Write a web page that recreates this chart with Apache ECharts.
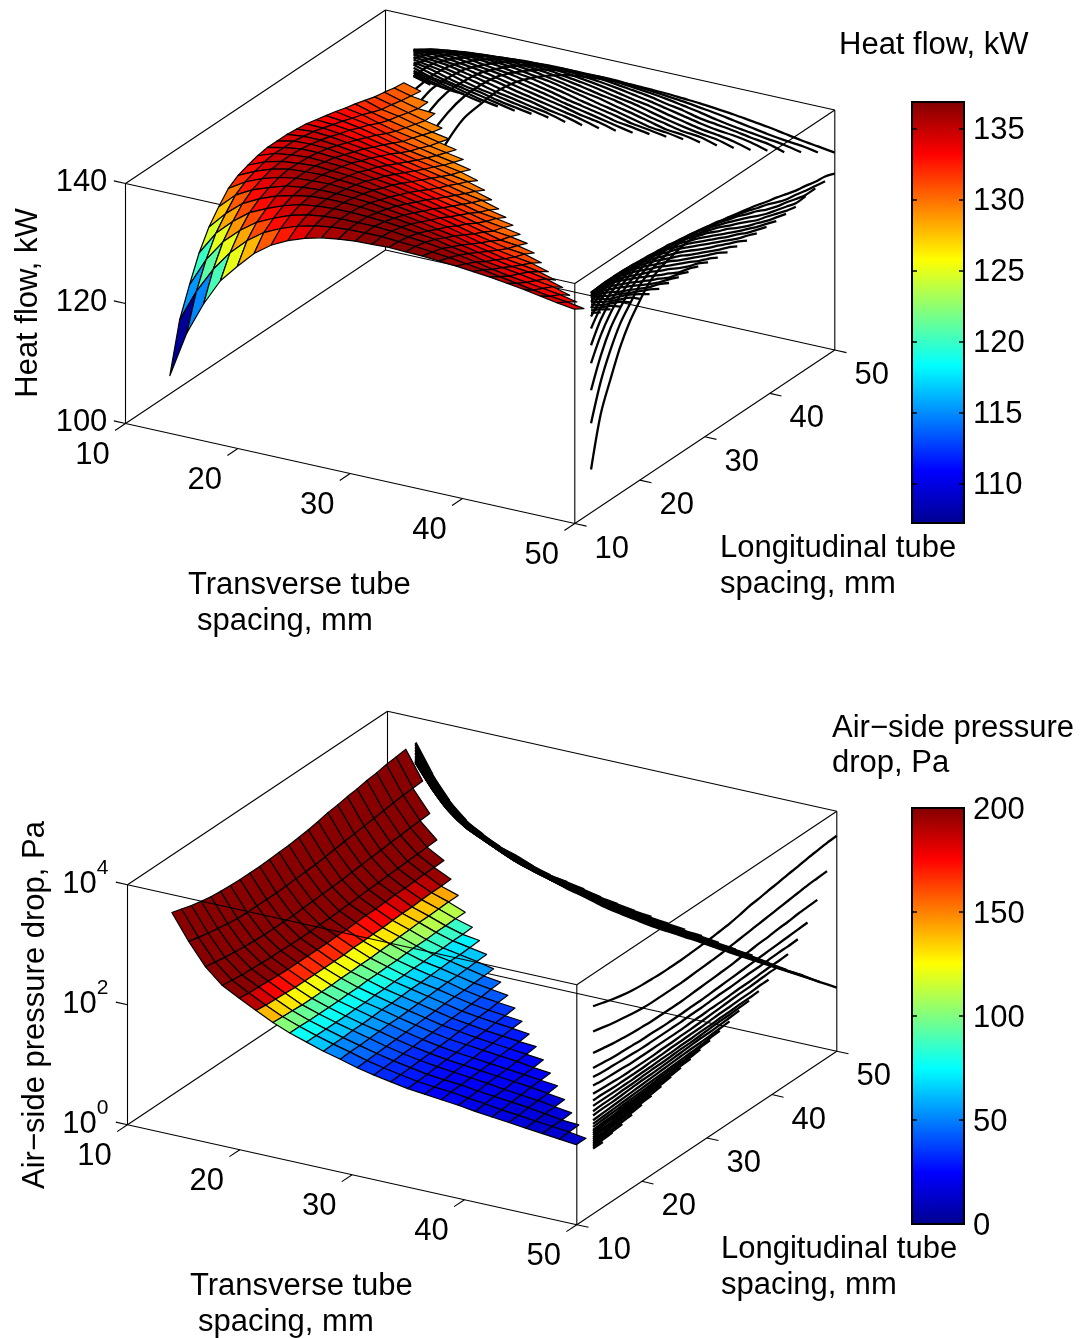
<!DOCTYPE html>
<html><head><meta charset="utf-8">
<style>html,body{margin:0;padding:0;background:#fff}#c{width:1080px;height:1338px}</style>
<script src="https://cdn.jsdelivr.net/npm/echarts@6/dist/echarts.min.js"></script>
</head><body><div id="c"></div>
<script>
// Grid of the surfaces: the same tube spacings (mm) are used along both floor axes.
const transverseSpacing = [12.5,14,15.5,17,18.5,20,21.5,23,24.5,26,27.5,29,30.5,32,33.5,35,36.5,38,39.5,41,42.5,44,45.5,47,48.5,50];
const longitudinalSpacing = [12.5,14,15.5,17,18.5,20,21.5,23,24.5,26,27.5,29,30.5,32,33.5,35,36.5,38,39.5,41,42.5,44,45.5,47,48.5,50];

// Heat flow, kW. heatFlow[k][i] is the value at transverse index i, longitudinal index k-i.
const heatFlow = [
[107.2],
[115.4,114.9],
[120.1,120.8,120.4],
[124.4,125.0,125.1,124.9],
[127.6,128.3,128.6,128.5,127.9],
[129.9,130.5,130.9,131.1,131.1,130.7],
[131.9,132.5,132.8,133.0,133.1,133.1,132.7],
[133.0,133.6,134.0,134.2,134.3,134.4,134.4,134.1],
[133.6,134.3,134.8,135.0,135.3,135.4,135.5,135.4,135.1],
[134.1,134.8,135.3,135.6,135.9,136.0,136.2,136.2,136.1,135.8],
[134.4,135.1,135.5,135.9,136.1,136.3,136.5,136.6,136.6,136.5,136.2],
[134.4,135.0,135.5,135.8,136.1,136.3,136.5,136.7,136.8,136.8,136.7,136.5],
[134.4,135.0,135.4,135.7,136.0,136.2,136.4,136.5,136.7,136.8,136.8,136.8,136.6],
[134.2,134.7,135.1,135.4,135.6,135.8,136.0,136.2,136.4,136.6,136.7,136.8,136.8,136.7],
[134.0,134.4,134.7,135.0,135.2,135.4,135.6,135.8,136.0,136.2,136.3,136.5,136.6,136.6,136.6],
[133.6,133.9,134.2,134.4,134.6,134.9,135.1,135.3,135.5,135.6,135.8,136.0,136.2,136.3,136.4,136.5],
[133.2,133.4,133.6,133.8,134.0,134.2,134.4,134.6,134.8,135.0,135.2,135.4,135.6,135.8,136.0,136.1,136.3],
[132.8,132.9,133.1,133.2,133.4,133.6,133.8,134.0,134.2,134.3,134.5,134.7,134.9,135.1,135.4,135.6,135.8,136.1],
[132.3,132.3,132.4,132.5,132.6,132.8,133.0,133.2,133.4,133.6,133.7,133.9,134.1,134.3,134.6,134.8,135.1,135.4,135.8],
[131.9,131.8,131.8,131.8,131.9,132.1,132.2,132.4,132.6,132.8,133.0,133.2,133.4,133.6,133.8,134.0,134.3,134.6,135.0,135.5],
[131.4,131.1,131.0,131.0,131.1,131.2,131.4,131.6,131.8,131.9,132.1,132.3,132.5,132.7,132.9,133.1,133.4,133.6,134.0,134.5,135.1],
[130.9,130.5,130.4,130.3,130.3,130.4,130.6,130.8,131.0,131.1,131.3,131.5,131.7,131.9,132.0,132.2,132.5,132.8,133.2,133.5,134.0,134.7],
[130.6,130.2,130.0,129.8,129.8,129.8,129.9,130.1,130.2,130.4,130.5,130.7,130.9,131.0,131.2,131.4,131.6,131.9,132.3,132.8,133.1,133.5,134.2],
[130.2,129.8,129.5,129.3,129.2,129.1,129.2,129.3,129.4,129.6,129.7,129.9,130.0,130.2,130.3,130.5,130.8,131.1,131.5,132.0,132.3,132.7,133.1,133.7],
[130.0,129.5,129.1,128.8,128.6,128.6,128.6,128.7,128.8,128.9,129.0,129.2,129.3,129.6,129.8,130.0,130.2,130.5,130.7,131.0,131.5,131.9,132.3,132.8,133.3],
[129.4,129.2,129.1,128.9,128.2,128.1,128.0,128.1,128.1,128.0,128.1,128.2,128.4,128.7,129.1,129.3,129.5,129.6,129.7,129.9,130.2,130.7,131.1,131.7,132.3,132.9]
];

// log10 of air-side pressure drop (Pa). pressureLog10[i][j]: transverse index i, longitudinal index j.
const pressureLog10 = [
[3.46,3.41,3.36,3.32,3.29,3.27,3.26,3.25,3.25,3.25,3.26,3.27,3.28,3.30,3.32,3.35,3.39,3.41,3.44,3.46,3.49,3.51,3.54,3.56,3.58,3.59],
[3.04,3.00,2.96,2.93,2.90,2.88,2.87,2.87,2.87,2.87,2.88,2.89,2.90,2.91,2.93,2.95,2.97,2.99,3.01,3.03,3.05,3.07,3.09,3.10,3.11],
[2.68,2.65,2.62,2.60,2.58,2.57,2.56,2.56,2.56,2.56,2.57,2.58,2.59,2.60,2.61,2.63,2.64,2.66,2.67,2.69,2.70,2.72,2.73,2.74],
[2.43,2.41,2.39,2.38,2.37,2.36,2.36,2.35,2.35,2.35,2.36,2.36,2.37,2.38,2.39,2.40,2.41,2.42,2.43,2.44,2.45,2.46,2.47],
[2.28,2.26,2.25,2.24,2.23,2.22,2.22,2.22,2.22,2.22,2.23,2.23,2.24,2.25,2.25,2.26,2.27,2.27,2.28,2.29,2.29,2.30],
[2.14,2.12,2.11,2.10,2.09,2.09,2.09,2.09,2.09,2.09,2.10,2.10,2.11,2.11,2.12,2.13,2.13,2.14,2.15,2.15,2.16],
[2.00,1.99,1.98,1.97,1.97,1.97,1.97,1.98,1.98,1.99,1.99,2.00,2.01,2.02,2.03,2.04,2.04,2.05,2.06,2.06],
[1.89,1.89,1.88,1.88,1.88,1.88,1.89,1.89,1.90,1.90,1.91,1.91,1.92,1.93,1.93,1.94,1.94,1.95,1.95],
[1.80,1.80,1.80,1.80,1.80,1.81,1.81,1.82,1.82,1.83,1.83,1.84,1.84,1.85,1.85,1.86,1.86,1.87],
[1.71,1.72,1.72,1.73,1.73,1.74,1.75,1.75,1.76,1.77,1.77,1.78,1.79,1.80,1.80,1.81,1.82],
[1.64,1.65,1.65,1.66,1.67,1.68,1.68,1.69,1.70,1.71,1.72,1.73,1.73,1.74,1.75,1.76],
[1.56,1.57,1.58,1.59,1.60,1.61,1.62,1.63,1.64,1.65,1.66,1.66,1.67,1.68,1.69],
[1.50,1.51,1.52,1.53,1.54,1.55,1.56,1.57,1.58,1.59,1.60,1.61,1.63,1.64],
[1.45,1.46,1.47,1.48,1.49,1.50,1.51,1.53,1.54,1.55,1.56,1.58,1.59],
[1.40,1.41,1.42,1.44,1.45,1.46,1.48,1.49,1.50,1.52,1.53,1.55],
[1.37,1.38,1.39,1.41,1.42,1.43,1.45,1.46,1.47,1.49,1.50],
[1.34,1.36,1.37,1.38,1.39,1.40,1.42,1.43,1.44,1.46],
[1.31,1.32,1.33,1.35,1.36,1.37,1.39,1.40,1.42],
[1.27,1.29,1.30,1.31,1.33,1.34,1.35,1.37],
[1.24,1.25,1.27,1.28,1.30,1.31,1.32],
[1.21,1.22,1.24,1.25,1.26,1.28],
[1.18,1.19,1.20,1.21,1.22],
[1.15,1.16,1.16,1.17],
[1.12,1.13,1.14],
[1.09,1.09],
[1.06]
];

// Axis ticks
const floorTicks = [10,20,30,40,50];
const heatTicks = [100,120,140];
const pressureExponents = [0,2,4];
const heatColorTicks = [110,115,120,125,130,135];
const pressureColorTicks = [0,50,100,150,200];

// Colour map (jet)
const jetStops = [[0,0,0,143],[0.125,0,0,255],[0.375,0,255,255],[0.625,255,255,0],[0.875,255,0,0],[1,128,0,0]];
function jet(t){
  t=Math.max(0,Math.min(1,t));
  for(let k=1;k<jetStops.length;k++){
    const a=jetStops[k-1],b=jetStops[k];
    if(t<=b[0]){const f=(t-a[0])/(b[0]-a[0]);
      return 'rgb('+[1,2,3].map(n=>Math.round(a[n]+(b[n]-a[n])*f)).join(',')+')';}
  }
  return 'rgb(128,0,0)';
}
function jetFlat(t){ const lvl=Math.min(63,Math.max(0,Math.floor(t*64))); return jet((lvl+0.5)/64); }

const FONT='"Liberation Sans"', SIZE=31;
const N=transverseSpacing.length;

const panels=[
 {gridLeft:125.5,gridTop:8.5,zMin:100,zMax:140,cMin:107.2,cMax:136.9,
  z:(i,j)=>heatFlow[i+j][i], c:(i,j)=>heatFlow[i+j][i], frontTopOver:false,
  zTicks:heatTicks, zText:v=>[String(v)], barTop:102, barH:421, barTicks:heatColorTicks},
 {gridLeft:127.5,gridTop:709.7,zMin:0,zMax:4,cMin:0,cMax:200,
  z:(i,j)=>pressureLog10[i][j], c:(i,j)=>Math.pow(10,pressureLog10[i][j]), frontTopOver:true,
  zTicks:pressureExponents, zText:v=>['10',String(v)], barTop:808, barH:416, barTicks:pressureColorTicks}
];

// Oblique projection: floor and height axes normalised to 0..1, then to grid units.
const GW=709, GH=515;
function proj(p,x,y,z){
  const xn=(x-10)/40,yn=(y-10)/40,zn=(z-p.zMin)/(p.zMax-p.zMin);
  return [449.3*xn+260*yn, 100*(1-xn)+173.5*yn+240*zn];
}
function txt(x,y,text,align,size){
  return {type:'text',style:{x:x,y:y+2,text:text,fill:'#000',fontFamily:FONT,fontSize:size||SIZE,
    textAlign:align||'center',textVerticalAlign:'middle'}};
}
function lineEl(pts,w,color,smooth){
  return {type:'polyline',shape:{points:pts,smooth:smooth||0},style:{stroke:color||'#000',lineWidth:w,fill:null,lineJoin:'round'}};
}

const series=[],grid=[],xAxis=[],yAxis=[];

panels.forEach((p,pi)=>{
  const g=grid.length,gx=xAxis.length,gy=yAxis.length;
  grid.push({left:p.gridLeft,top:p.gridTop,width:GW,height:GH,show:false});
  xAxis.push({gridIndex:g,type:'value',min:0,max:GW,show:false});
  yAxis.push({gridIndex:g,type:'value',min:0,max:GH,show:false});

  const base={type:'custom',coordinateSystem:'cartesian2d',xAxisIndex:gx,yAxisIndex:gy,silent:true,animation:false,clip:false};
  const zLo=p.zMin,zHi=p.zMax;
  const corners={A:[10,10],B:[50,10],C:[50,50],D:[10,50]};
  const edge=(a,za,b,zb)=>[corners[a][0],corners[a][1],za,corners[b][0],corners[b][1],zb];
  const under=[
    edge('A',zLo,'B',zLo),edge('B',zLo,'C',zLo),edge('C',zLo,'D',zLo),edge('D',zLo,'A',zLo),
    edge('A',zHi,'D',zHi),edge('D',zHi,'C',zHi),edge('C',zHi,'B',zHi),
    edge('A',zLo,'A',zHi),edge('B',zLo,'B',zHi),edge('C',zLo,'C',zHi),edge('D',zLo,'D',zHi)];
  const frontTop=edge('A',zHi,'B',zHi);
  const ticks=[];
  floorTicks.forEach(v=>{ticks.push([v,10,zLo,v,8.4,zLo]);});                  // transverse axis ticks
  floorTicks.forEach(v=>{ticks.push([50,v,zLo,51.04,v,zLo]);});                // longitudinal axis ticks
  p.zTicks.forEach(v=>{ticks.push([10,10,v,8.96,10,v]);});                     // height axis ticks
  const segRender=(w)=>(params,api)=>{
    const a=api.coord(proj(p,api.value(0),api.value(1),api.value(2)));
    const b=api.coord(proj(p,api.value(3),api.value(4),api.value(5)));
    return lineEl([a,b],w,'#000');
  };
  const segs=p.frontTopOver?under:under.concat([frontTop]);
  series.push(Object.assign({},base,{data:segs.concat(ticks),renderItem:segRender(1.1)}));

  // Projections of the surface on the two back walls
  const wallLines=[];
  for(let j=0;j<N-1;j++){wallLines.push([0,j]);}   // y = 50 wall, one line per longitudinal spacing
  for(let i=0;i<N-1;i++){wallLines.push([1,i]);}   // x = 50 wall, one line per transverse spacing
  series.push(Object.assign({},base,{data:wallLines,renderItem:(params,api)=>{
    const wall=api.value(0),k=api.value(1),pts=[];
    for(let m=0;m<N-k;m++){
      const P=wall===0?proj(p,transverseSpacing[m],50,p.z(m,k)):proj(p,50,longitudinalSpacing[m],p.z(k,m));
      pts.push(api.coord(P));
    }
    return lineEl(pts,2.3,'#000',0.3);
  }}));

  // Surface: far quads first
  const quads=[];
  for(let j=N-2;j>=0;j--){for(let i=0;i+j+2<N;i++){quads.push([i,j]);}}
  series.push(Object.assign({},base,{data:quads,renderItem:(params,api)=>{
    const i=api.value(0),j=api.value(1);
    const P=(a,b)=>api.coord(proj(p,transverseSpacing[a],longitudinalSpacing[b],p.z(a,b)));
    return {type:'polygon',shape:{points:[P(i,j),P(i+1,j),P(i+1,j+1),P(i,j+1)]},
      style:{fill:jetFlat((p.c(i,j)-p.cMin)/(p.cMax-p.cMin)),stroke:'#000',lineWidth:1.2,lineJoin:'round'}};
  }}));

  if(p.frontTopOver){
    series.push(Object.assign({},base,{data:[frontTop],renderItem:segRender(1.1)}));
  }

  // Tick labels
  const labels=[];
  floorTicks.forEach(v=>labels.push([0,v]));
  floorTicks.forEach(v=>labels.push([1,v]));
  p.zTicks.forEach(v=>labels.push([2,v]));
  series.push(Object.assign({},base,{data:labels,renderItem:(params,api)=>{
    const kind=api.value(0),v=api.value(1);
    if(kind===0){const c=api.coord(proj(p,v,10,zLo));return txt(c[0]-33,c[1]+29.5,String(v));}
    if(kind===1){const c=api.coord(proj(p,50,v,zLo));return txt(c[0]+37,c[1]+23.5,String(v));}
    const c=api.coord(proj(p,10,10,v)),t=p.zText(v);
    if(t.length===1) return txt(c[0]-44,c[1]-3,t[0]);
    return {type:'group',children:[txt(c[0]-48,c[1]-2,t[0]),txt(c[0]-25,c[1]-18,t[1],'center',21)]};
  }}));

  // Colour bar
  const gb=grid.length,bx=xAxis.length,by=yAxis.length;
  grid.push({left:912,top:p.barTop,width:52,height:p.barH,show:false});
  xAxis.push({gridIndex:gb,type:'value',min:0,max:1,show:false});
  const tickStyle={show:true,inside:true,length:5,lineStyle:{color:'#000',width:1.5},customValues:p.barTicks};
  yAxis.push({gridIndex:gb,type:'value',position:'right',min:p.cMin,max:p.cMax,z:10,
    axisLine:{show:true,onZero:false,lineStyle:{color:'#000',width:2}},axisTick:tickStyle,
    axisLabel:{show:false},splitLine:{show:false}});
  yAxis.push({gridIndex:gb,type:'value',position:'left',min:p.cMin,max:p.cMax,z:10,
    axisLine:{show:true,onZero:false,lineStyle:{color:'#000',width:2}},axisTick:tickStyle,
    axisLabel:{show:false},splitLine:{show:false}});
  const barBase={type:'custom',coordinateSystem:'cartesian2d',xAxisIndex:bx,yAxisIndex:by,silent:true,animation:false,clip:false};
  series.push(Object.assign({},barBase,{z:1,
    data:[[0,p.cMin,1,p.cMax]],renderItem:(params,api)=>{
      const a=api.coord([api.value(0),api.value(3)]),b=api.coord([api.value(2),api.value(1)]);
      return {type:'rect',shape:{x:a[0],y:a[1],width:b[0]-a[0],height:b[1]-a[1]},
        style:{stroke:'#000',lineWidth:2,fill:new echarts.graphic.LinearGradient(0,1,0,0,jetStops.map(s=>({offset:s[0],color:'rgb('+s[1]+','+s[2]+','+s[3]+')'})))}};
    }}));
  series.push(Object.assign({},barBase,{z:12,
    data:p.barTicks.map(v=>[1,v]),renderItem:(params,api)=>{
      const c=api.coord([1,api.value(1)]);
      return txt(c[0]+9,c[1],String(api.value(1)),'left');
    }}));
});

const gtext=(x,y,t,rot,align)=>({type:'text',x:x,y:y,rotation:rot||0,silent:true,
  style:{text:t,fill:'#000',font:SIZE+'px '+FONT,textAlign:align||'left',textVerticalAlign:'middle'}});

const chart=echarts.init(document.getElementById('c'),null,{renderer:'canvas',width:1080,height:1338});
chart.setOption({
  animation:false,backgroundColor:'#fff',grid,xAxis,yAxis,series,
  graphic:{elements:[
    gtext(839,45,'Heat flow, kW'),
    gtext(28,303,'Heat flow, kW',Math.PI/2,'center'),
    gtext(188,585,'Transverse tube'),gtext(197,621,'spacing, mm'),
    gtext(720,548,'Longitudinal tube'),gtext(720,584,'spacing, mm'),
    gtext(832,728,'Air\u2212side pressure'),gtext(832,763,'drop, Pa'),
    gtext(35,1005,'Air\u2212side pressure drop, Pa',Math.PI/2,'center'),
    gtext(190,1286,'Transverse tube'),gtext(198,1322,'spacing, mm'),
    gtext(721,1249,'Longitudinal tube'),gtext(721,1285,'spacing, mm')
  ]}
});
</script></body></html>
